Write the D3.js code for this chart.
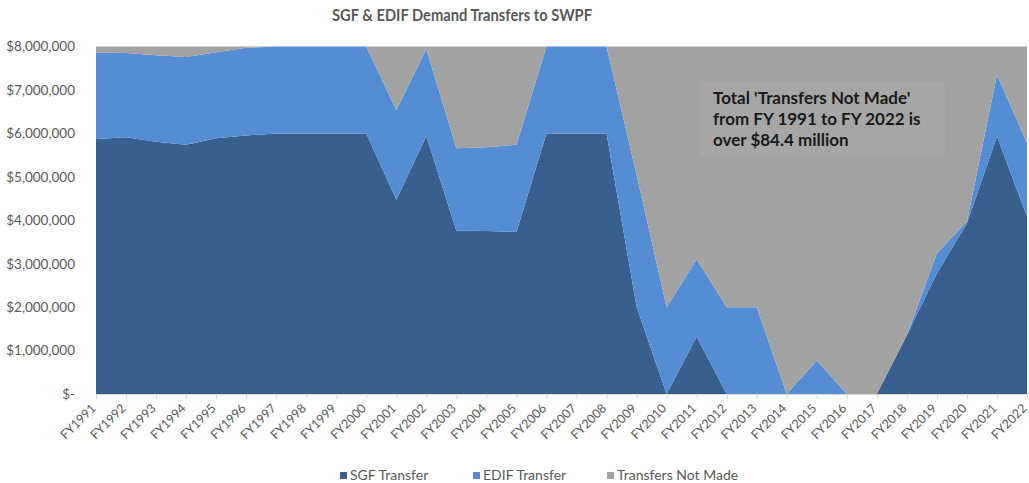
<!DOCTYPE html>
<html>
<head>
<meta charset="utf-8">
<script src="https://cdn.jsdelivr.net/npm/d3@7"></script>
<style>
  body { margin: 0; background: #fff; }
  text { font-family: Lato, "Open Sans", sans-serif; }
</style>
</head>
<body>
<svg id="chart" width="1029" height="483"></svg>
<script>
// fiscal years
const years = ['FY1991','FY1992','FY1993','FY1994','FY1995','FY1996','FY1997','FY1998','FY1999','FY2000',
  'FY2001','FY2002','FY2003','FY2004','FY2005','FY2006','FY2007','FY2008','FY2009','FY2010',
  'FY2011','FY2012','FY2013','FY2014','FY2015','FY2016','FY2017','FY2018','FY2019','FY2020','FY2021','FY2022'];

// SGF transfer ($)
const sgfValues = [5870000,5910000,5810000,5740000,5890000,5950000,6000000,6000000,6000000,6000000,
  4470000,5940000,3760000,3750000,3730000,6000000,6000000,6000000,2010000,0,
  1320000,0,0,0,0,0,0,1350000,2780000,3930000,5930000,4090000];

// EDIF transfer ($)
const edifValues = [1990000,1940000,1990000,2020000,1980000,2020000,2000000,2000000,2000000,2000000,
  2060000,2000000,1900000,1930000,2010000,2000000,2000000,2000000,3040000,2000000,
  1780000,2000000,2000000,0,770000,0,0,0,460000,40000,1420000,1690000];

// full demand each year, the rest is "not made"
const demandCap = 8000000;

const yTicks = [0,1000000,2000000,3000000,4000000,5000000,6000000,7000000,8000000];

const seriesKeys = ['sgf','edif','notMade'];
const seriesNames = ['SGF Transfer','EDIF Transfer','Transfers Not Made'];

const rows = years.map((y, i) => ({
  year: y,
  sgf: sgfValues[i],
  edif: edifValues[i],
  notMade: Math.max(0, demandCap - sgfValues[i] - edifValues[i])
}));

const svg = d3.select('#chart');
const margin = { top: 46.5, right: 2, bottom: 89, left: 96 };
const width = 1029 - margin.left - margin.right,
  height = 483 - margin.top - margin.bottom;

// dotted grid pattern for "not made"
const defs = svg.append('defs');
const pat = defs.append('pattern')
  .attr('id', 'dots')
  .attr('width', 2).attr('height', 2)
  .attr('patternUnits', 'userSpaceOnUse');
pat.append('rect').attr('width', 2).attr('height', 2).attr('fill', '#e0e0e0');
pat.append('rect').attr('width', 1).attr('height', 1).attr('fill', '#646464');
pat.append('rect').attr('x', 1).attr('y', 1).attr('width', 1).attr('height', 1).attr('fill', '#646464');

const colors = { sgf: '#37608f', edif: '#548dd4', notMade: 'url(#dots)' };

const g = svg.append('g')
  .attr('transform', 'translate(' + margin.left + ',' + margin.top + ')');

const x = d3.scalePoint().domain(years).range([0, width]);
const y = d3.scaleLinear().domain([0, demandCap]).range([height, 0]);

const stacked = d3.stack().keys(seriesKeys)(rows);

const area = d3.area()
  .x((d) => x(d.data.year))
  .y0((d) => y(d[0]))
  .y1((d) => y(d[1]));

g.selectAll('path.layer')
  .data(stacked)
  .enter()
  .append('path')
  .attr('class', 'layer')
  .attr('d', area)
  .attr('fill', (d) => colors[d.key]);

// y axis
const yAxis = d3.axisLeft(y)
  .tickValues(yTicks)
  .tickSize(0)
  .tickPadding(21)
  .tickFormat((d) => (d === 0 ? '$-' : d3.format('$,')(d)));
const yg = g.append('g').call(yAxis);
yg.select('.domain').remove();
yg.selectAll('text')
  .style('font-size', '13.5px')
  .attr('fill', '#595959');

// x axis
const xAxis = d3.axisBottom(x).tickSize(5);
const xg = g.append('g')
  .attr('transform', 'translate(0,' + height + ')')
  .call(xAxis);
xg.select('.domain').attr('stroke', '#d9d9d9');
xg.selectAll('.tick line').attr('stroke', '#d9d9d9');
xg.selectAll('text')
  .style('font-size', '12.5px')
  .attr('fill', '#595959')
  .attr('text-anchor', 'end')
  .attr('x', 0)
  .attr('y', 0)
  .attr('dy', '0.35em')
  .attr('transform', 'translate(-3,12) rotate(-45)');

// title (narrow face in the original, so squeeze it to the same width)
svg.append('text')
  .attr('x', 332)
  .attr('y', 21)
  .attr('textLength', 260)
  .attr('lengthAdjust', 'spacingAndGlyphs')
  .style('font-size', '17.5px')
  .style('font-weight', 'bold')
  .attr('fill', '#595959')
  .text('SGF & EDIF Demand Transfers to SWPF');

// annotation box
const note = svg.append('g').attr('transform', 'translate(700,82.5)');
note.append('rect')
  .attr('width', 245)
  .attr('height', 74)
  .attr('fill', '#a6a6a6');
const noteLines = ["Total 'Transfers Not Made'", 'from FY 1991 to FY 2022 is', 'over $84.4 million'];
note.selectAll('text')
  .data(noteLines)
  .enter()
  .append('text')
  .attr('x', 13)
  .attr('y', (d, i) => 21.5 + i * 21)
  .style('font-size', '17px')
  .style('font-weight', 'bold')
  .attr('fill', '#1a1a1a')
  .text((d) => d);

// legend
const legendX = [340, 473, 607];
const legend = svg.append('g').attr('transform', 'translate(0,475.5)');
const item = legend.selectAll('g')
  .data(seriesKeys)
  .enter()
  .append('g')
  .attr('transform', (d, i) => 'translate(' + legendX[i] + ',0)');
item.append('rect')
  .attr('y', -3.5)
  .attr('width', 7)
  .attr('height', 7)
  .attr('fill', (d) => colors[d]);
item.append('text')
  .attr('x', 10)
  .attr('dy', '0.35em')
  .style('font-size', '14px')
  .attr('fill', '#595959')
  .text((d, i) => seriesNames[i]);
</script>
</body>
</html>
